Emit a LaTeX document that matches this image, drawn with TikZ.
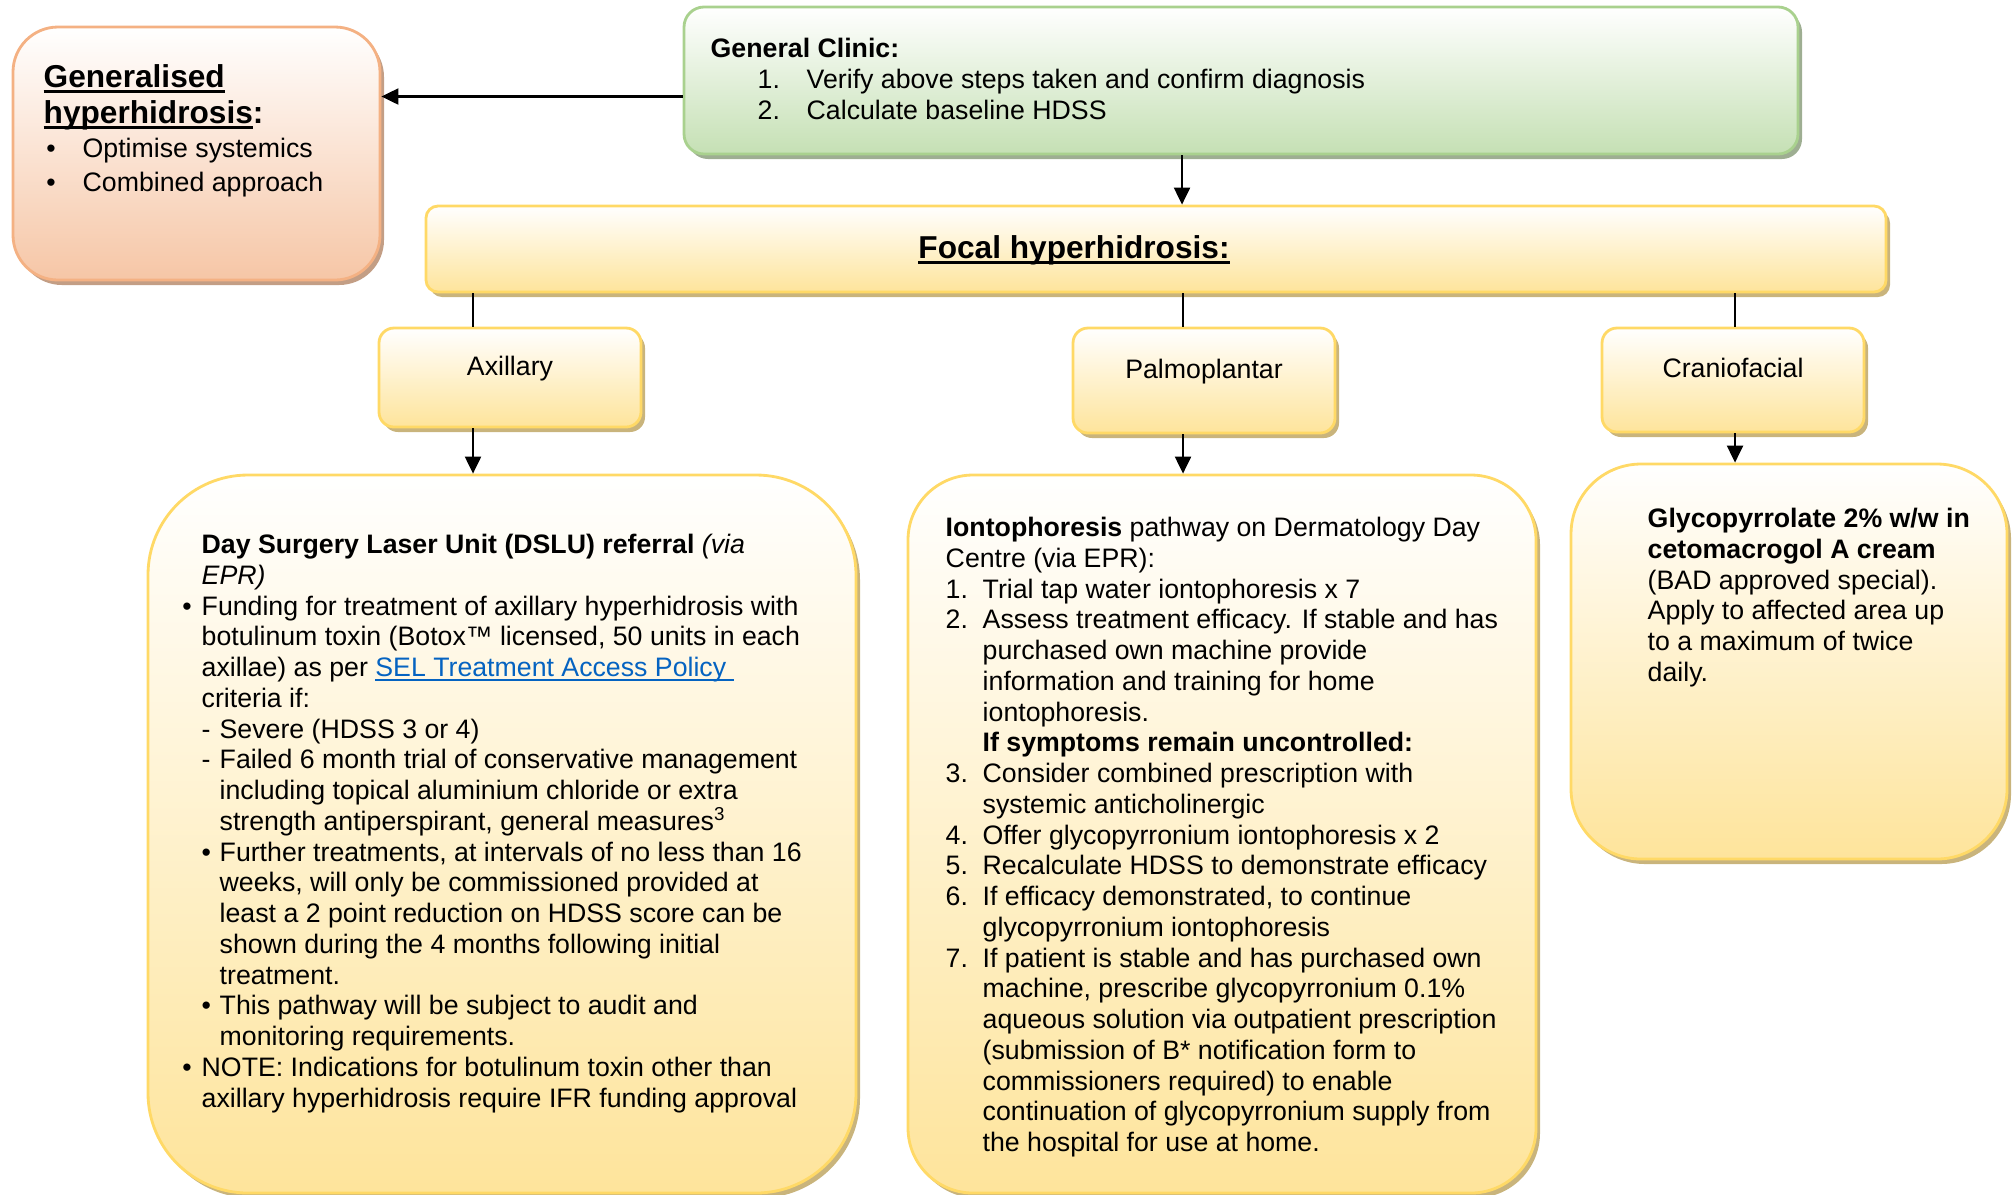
\documentclass[tikz,border=0pt]{standalone}
\usepackage{fontspec}
\setmainfont{Liberation Sans}
\usetikzlibrary{arrows.meta,shadows}
\definecolor{amarillo}{HTML}{FFD966}
\definecolor{amarillofondo}{HTML}{FEE49B}
\definecolor{amarillosombra}{HTML}{C9B47C}
\definecolor{verde}{HTML}{A9D18E}
\definecolor{verdefondo}{HTML}{C5E0B4}
\definecolor{verdesombra}{HTML}{9EAE92}
\definecolor{naranja}{HTML}{F4B183}
\definecolor{naranjafondo}{HTML}{F6C6A6}
\definecolor{naranjasombra}{HTML}{C39E85}
\definecolor{enlace}{HTML}{0563C1}
\newcommand{\subrayar}[1]{\setbox0\hbox{#1}\rlap{\rule[-0.17em]{\wd0}{0.08em}}\box0}
\tikzset{
  caja/.style={draw=#1, line width=0.8pt, top color=white, bottom color=#1fondo,
    drop shadow={shadow xshift=0.04cm, shadow yshift=-0.05cm, fill=#1sombra, opacity=1}},
  subcaja/.style={caja=amarillo, rounded corners=0.15cm, minimum width=2.62cm,
    text height=0.175cm, text depth=0.225cm, font=\fontsize{7.6}{8.75}\selectfont},
  texto/.style={anchor=north west, inner sep=0pt, align=left, font=\fontsize{7.6}{8.75}\selectfont},
  linea/.style={line width=0.6pt},
  flecha/.style={linea, -{Triangle[length=0.17cm,width=0.16cm]}},
}
\begin{document}
\begin{tikzpicture}
    \useasboundingbox (0,0) rectangle (20.13,-11.94);
    % Cajas superiores
    \node[caja=naranja, rounded corners=0.45cm, minimum width=3.67cm, minimum height=2.53cm] (gen) at (1.965,-1.535) {};
    \node[caja=verde, rounded corners=0.2cm, minimum width=11.14cm, minimum height=1.47cm] (gc) at (12.41,-0.805) {};
    \node[caja=amarillo, rounded corners=0.12cm, minimum width=14.6cm, minimum height=0.86cm] (focal) at (11.56,-2.49) {};
    % Tipos
    \node[subcaja, minimum height=0.99cm] (axl) at (5.10,-3.775) {Axillary};
    \node[subcaja, minimum height=1.05cm] (palm) at (12.04,-3.805) {Palmoplantar};
    \node[subcaja, minimum height=1.04cm] (cran) at (17.33,-3.80) {Craniofacial};
    % Cajas inferiores
    \node[caja=amarillo, rounded corners=1cm, minimum width=7.08cm, minimum height=7.18cm] (dslu) at (5.02,-8.34) {};
    \node[caja=amarillo, rounded corners=0.65cm, minimum width=6.28cm, minimum height=7.18cm] (ionto) at (12.22,-8.34) {};
    \node[caja=amarillo, rounded corners=0.7cm, minimum width=4.36cm, minimum height=3.95cm] (glyco) at (17.89,-6.615) {};
    % Textos
    \node[texto, font=\fontsize{9}{10.2}\selectfont\bfseries] (gentit) at (0.43,-0.64)
      {\subrayar{Generalised}\\\subrayar{hyperhidrosis}:};
    \node[texto, font=\fontsize{7.6}{9.64}\selectfont] (genlst) at (0.82,-1.375)
      {\llap{\textbullet\hspace{0.27cm}}Optimise systemics\\
       \llap{\textbullet\hspace{0.27cm}}Combined approach};
    \node[texto] (gctxt) at (7.10,-0.375)
      {\textbf{General Clinic:}\\
       \hspace*{0.47cm}\makebox[0.49cm][l]{1.}Verify above steps taken and confirm diagnosis\\
       \hspace*{0.47cm}\makebox[0.49cm][l]{2.}Calculate baseline HDSS};
    \node[inner sep=0pt, font=\fontsize{9}{10.2}\selectfont\bfseries] (focaltxt) at (10.74,-2.5)
      {\subrayar{Focal hyperhidrosis:}};
    \node[texto] (dslutxt) at (2.01,-5.335)
      {\textbf{Day Surgery Laser Unit (DSLU) referral} \textit{(via}\\
       \textit{EPR)}\\
       \llap{\textbullet\hspace{0.10cm}}Funding for treatment of axillary hyperhidrosis with\\
       botulinum toxin (Botox™ licensed, 50 units in each\\
       axillae) as per \textcolor{enlace}{\subrayar{SEL Treatment Access Policy\ }}\\
       criteria if:\\
       \makebox[0.18cm][l]{-}Severe (HDSS 3 or 4)\\
       \makebox[0.18cm][l]{-}Failed 6 month trial of conservative management\\
       \hspace*{0.18cm}including topical aluminium chloride or extra\\
       \hspace*{0.18cm}strength antiperspirant, general measures\textsuperscript{3}\\
       \makebox[0.18cm][l]{\textbullet}Further treatments, at intervals of no less than 16\\
       \hspace*{0.18cm}weeks, will only be commissioned provided at\\
       \hspace*{0.18cm}least a 2 point reduction on HDSS score can be\\
       \hspace*{0.18cm}shown during the 4 months following initial\\
       \hspace*{0.18cm}treatment.\\
       \makebox[0.18cm][l]{\textbullet}This pathway will be subject to audit and\\
       \hspace*{0.18cm}monitoring requirements.\\
       \llap{\textbullet\hspace{0.10cm}}NOTE: Indications for botulinum toxin other than\\
       axillary hyperhidrosis require IFR funding approval};
    \node[texto] (iontotxt) at (9.45,-5.165)
      {\textbf{Iontophoresis} pathway on Dermatology Day\\
       Centre (via EPR):\\
       \makebox[0.37cm][l]{1.}Trial tap water iontophoresis x 7\\
       \makebox[0.37cm][l]{2.}Assess treatment efficacy. If stable and has\\
       \hspace*{0.37cm}purchased own machine provide\\
       \hspace*{0.37cm}information and training for home\\
       \hspace*{0.37cm}iontophoresis.\\
       \hspace*{0.37cm}\textbf{If symptoms remain uncontrolled:}\\
       \makebox[0.37cm][l]{3.}Consider combined prescription with\\
       \hspace*{0.37cm}systemic anticholinergic\\
       \makebox[0.37cm][l]{4.}Offer glycopyrronium iontophoresis x 2\\
       \makebox[0.37cm][l]{5.}Recalculate HDSS to demonstrate efficacy\\
       \makebox[0.37cm][l]{6.}If efficacy demonstrated, to continue\\
       \hspace*{0.37cm}glycopyrronium iontophoresis\\
       \makebox[0.37cm][l]{7.}If patient is stable and has purchased own\\
       \hspace*{0.37cm}machine, prescribe glycopyrronium 0.1\%\\
       \hspace*{0.37cm}aqueous solution via outpatient prescription\\
       \hspace*{0.37cm}(submission of B* notification form to\\
       \hspace*{0.37cm}commissioners required) to enable\\
       \hspace*{0.37cm}continuation of glycopyrronium supply from\\
       \hspace*{0.37cm}the hospital for use at home.};
    \node[texto] (glycotxt) at (16.47,-5.075)
      {\textbf{Glycopyrrolate 2\% w/w in}\\
       \textbf{cetomacrogol A cream}\\
       (BAD approved special).\\
       Apply to affected area up\\
       to a maximum of twice\\
       daily.};
    % Flechas
    \coordinate (gcout) at ([yshift=-0.16cm]gc.west);
    \draw[flecha] (gcout) -- (gcout -| gen.east);
    \draw[flecha] ([xshift=-0.59cm]gc.south) -- ([xshift=-0.59cm]gc.south |- focal.north);
    \draw[linea] ([xshift=-0.37cm]axl.north |- focal.south) -- ([xshift=-0.37cm]axl.north);
    \draw[linea] ([xshift=-0.21cm]palm.north |- focal.south) -- ([xshift=-0.21cm]palm.north);
    \draw[linea] ([xshift=0.02cm]cran.north |- focal.south) -- ([xshift=0.02cm]cran.north);
    \draw[flecha] ([xshift=-0.37cm]axl.south) -- ([xshift=-0.37cm]axl.south |- dslu.north);
    \draw[flecha] ([xshift=-0.21cm]palm.south) -- ([xshift=-0.21cm]palm.south |- ionto.north);
    \draw[flecha] ([xshift=0.02cm]cran.south) -- ([xshift=0.02cm]cran.south |- glyco.north);
\end{tikzpicture}
\end{document}
